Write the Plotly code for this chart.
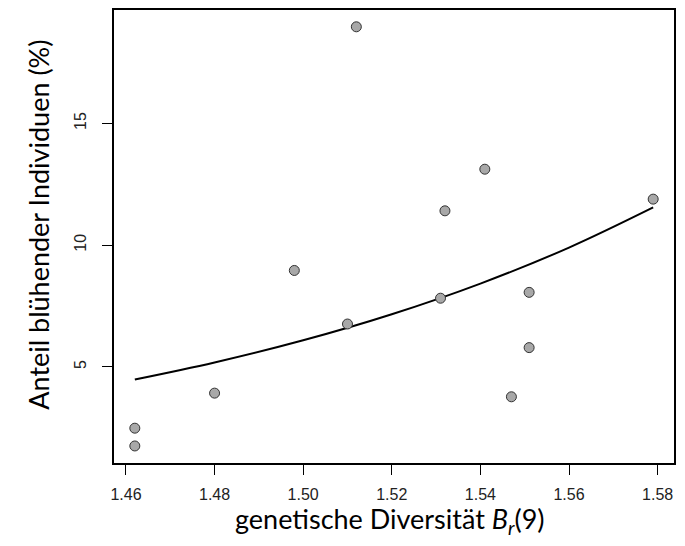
import plotly.graph_objects as go

# Observed data points (genetic diversity B_r(9) vs. % flowering individuals)
div_x = [1.462, 1.462, 1.480, 1.498, 1.510, 1.512, 1.532, 1.531, 1.541, 1.547, 1.551, 1.551, 1.579]
flower_y = [2.48, 1.75, 3.92, 8.96, 6.76, 18.97, 11.41, 7.82, 13.12, 3.77, 8.06, 5.79, 11.89]

# Fitted curve
fit_x = [1.462, 1.480, 1.500, 1.520, 1.540, 1.560, 1.579]
fit_y = [4.48, 5.18, 6.09, 7.16, 8.42, 9.90, 11.55]

x_ticks = [1.46, 1.48, 1.50, 1.52, 1.54, 1.56, 1.58]
x_tick_text = ["1.46", "1.48", "1.50", "1.52", "1.54", "1.56", "1.58"]
y_ticks = [5, 10, 15]
y_tick_text = ["5", "10", "15"]

fig = go.Figure()
fig.add_trace(go.Scatter(
    x=fit_x, y=fit_y, mode="lines",
    line=dict(color="black", width=2, shape="spline"),
    hoverinfo="skip", showlegend=False,
))
fig.add_trace(go.Scatter(
    x=div_x, y=flower_y, mode="markers",
    marker=dict(size=10, color="#a8a8a8", line=dict(color="#333333", width=1)),
    showlegend=False,
))

tick_font = dict(family="Liberation Sans, Arial, sans-serif", size=16, color="#222222")
title_font = dict(family="Lato, Open Sans, sans-serif", size=27, color="black")
fig.update_layout(
    width=685, height=546,
    margin=dict(l=114, r=11, t=8, b=83),
    paper_bgcolor="white", plot_bgcolor="white",
    xaxis=dict(
        range=[1.4573, 1.5837], tickvals=x_ticks, ticktext=x_tick_text,
        ticks="outside", ticklen=10, tickwidth=1, tickcolor="black",
        showline=True, mirror=True, linecolor="black", linewidth=1.5,
        showgrid=False, zeroline=False, tickfont=tick_font,
        ticklabelstandoff=6,
    ),
    yaxis=dict(
        range=[1.05, 19.66], tickvals=y_ticks, ticktext=y_tick_text,
        ticks="outside", ticklen=10, tickwidth=1, tickcolor="black",
        showline=True, mirror=True, linecolor="black", linewidth=1.5,
        showgrid=False, zeroline=False, tickfont=tick_font, tickangle=-90,
        ticklabelstandoff=10,
    ),
    annotations=[
        dict(text="genetische Diversität <i>B</i><sub><i>r</i></sub>(9)",
             xref="paper", yref="paper", x=0.493, y=-0.127,
             xanchor="center", yanchor="middle", showarrow=False,
             font=title_font),
        dict(text="Anteil blühender Individuen (%)",
             xref="paper", yref="paper", x=-0.135, y=0.527,
             xanchor="center", yanchor="middle", textangle=-90, showarrow=False,
             font=title_font),
    ],
)

fig.write_html("out.html")
